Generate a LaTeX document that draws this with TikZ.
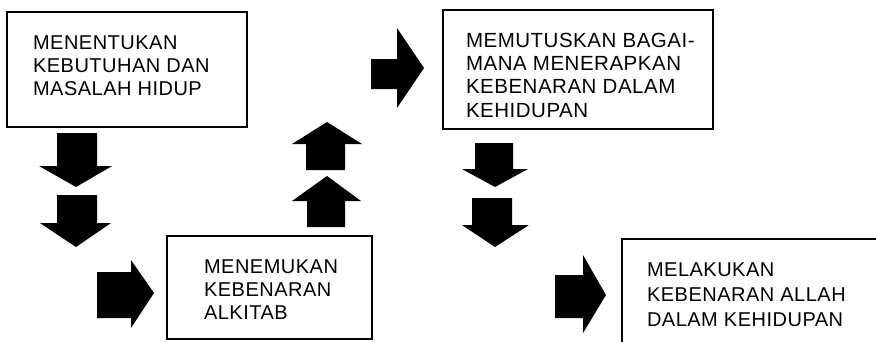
\documentclass[tikz,border=0pt]{standalone}
\usepackage{fontspec}
\setmainfont{Liberation Sans}[LetterSpace=2.5]
\begin{document}
\begin{tikzpicture}[x=1pt,y=-1pt,
  box/.style={draw, line width=1.6pt, anchor=north west, inner sep=0pt, outer sep=0pt},
  lbl/.style={anchor=north west, inner sep=0pt, outer sep=0pt, align=left},
  blk/.style={fill=black, draw=none}]
\useasboundingbox (0,0) rectangle (876,341);
\begin{scope}
\clip (0,0) rectangle (876,341);
% boxes
\node[box, minimum width=240pt, minimum height=115pt] (b1) at (7,12) {};
\node[box, minimum width=205pt, minimum height=103pt] (b2) at (167,236) {};
\node[box, minimum width=270pt, minimum height=119pt] (b3) at (443,10) {};
\node[box, minimum width=300pt, minimum height=160pt] (b4) at (622,239) {};
% texts
\node[lbl, font=\fontsize{20}{23}\selectfont] (t1) at (33,36) {MENENTUKAN\\KEBUTUHAN DAN\\MASALAH HIDUP};
\node[lbl, font=\fontsize{20}{23}\selectfont] (t2) at (204,260) {MENEMUKAN\\KEBENARAN\\ALKITAB};
\node[lbl, font=\fontsize{20.5}{23.3}\selectfont] (t3) at (466,33) {MEMUTUSKAN BAGAI-\\MANA MENERAPKAN\\KEBENARAN DALAM\\KEHIDUPAN};
\node[lbl, font=\fontsize{20}{25}\selectfont] (t4) at (647,263) {MELAKUKAN\\KEBENARAN ALLAH\\DALAM KEHIDUPAN};
% block arrows
\fill[blk] (57,133)--(97,133)--(97,166)--(112,166)--(76,187)--(39,166)--(57,166)--cycle;
\fill[blk] (57,195)--(97,195)--(97,223)--(111,223)--(76,247)--(40,223)--(57,223)--cycle;
\fill[blk] (97,272)--(131,272)--(131,260)--(154,293)--(131,328)--(131,318)--(97,318)--cycle;
\fill[blk] (307,227)--(307,201)--(292,201)--(327,176)--(361,201)--(345,201)--(345,227)--cycle;
\fill[blk] (306,170)--(306,144)--(292,144)--(327,122)--(362,144)--(345,144)--(345,170)--cycle;
\fill[blk] (371,59)--(397,59)--(397,28)--(424,68)--(397,108)--(397,89)--(371,89)--cycle;
\fill[blk] (475,143)--(513,143)--(513,169)--(528,169)--(495,187)--(462,169)--(475,169)--cycle;
\fill[blk] (472,198)--(512,198)--(512,225)--(529,225)--(495,247)--(462,225)--(472,225)--cycle;
\fill[blk] (555,275)--(583,275)--(583,255)--(606,295)--(583,333)--(583,318)--(555,318)--cycle;
\end{scope}
\end{tikzpicture}
\end{document}
